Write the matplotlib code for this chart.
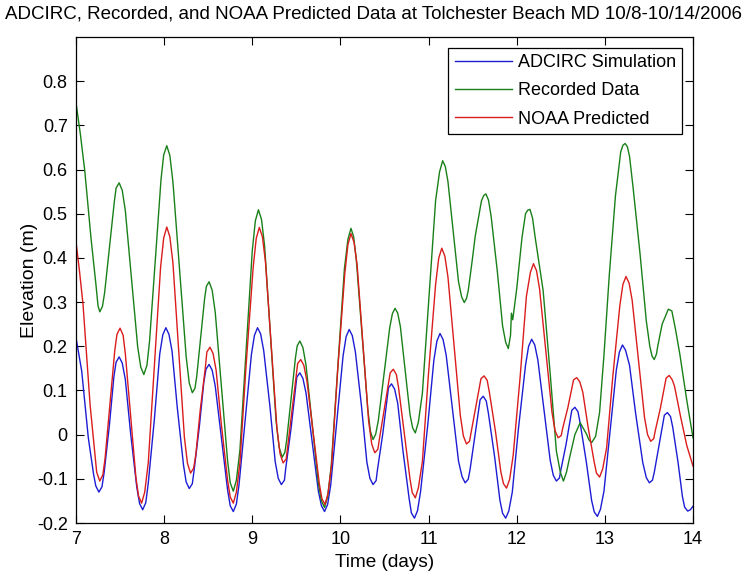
import numpy as np
import matplotlib
matplotlib.use('Agg')
import matplotlib.pyplot as plt
from matplotlib.ticker import FuncFormatter

plt.rcParams['font.family'] = ['Liberation Sans', 'DejaVu Sans']

# ADCIRC simulation (time in days, elevation in m)
adcirc_t = [7.00, 7.065, 7.14, 7.20, 7.26, 7.32, 7.38, 7.43, 7.49, 7.56, 7.62, 7.69, 7.757,
            7.82, 7.89, 7.95, 8.02, 8.09, 8.15, 8.22, 8.285, 8.34, 8.40, 8.45, 8.51, 8.58,
            8.65, 8.72, 8.785, 8.85, 8.92, 8.99, 9.06, 9.13, 9.20, 9.26, 9.33, 9.38, 9.44,
            9.49, 9.54, 9.61, 9.68, 9.75, 9.82, 9.89, 9.96, 10.03, 10.10, 10.17, 10.24, 10.30,
            10.37, 10.42, 10.48, 10.53, 10.58, 10.65, 10.71, 10.78, 10.84, 10.91, 10.99, 11.06,
            11.13, 11.20, 11.27, 11.34, 11.415, 11.47, 11.52, 11.57, 11.62, 11.68, 11.75, 11.81,
            11.875, 11.95, 12.02, 12.10, 12.17, 12.24, 12.31, 12.38, 12.45, 12.50, 12.56, 12.61,
            12.66, 12.72, 12.79, 12.85, 12.915, 12.99, 13.06, 13.13, 13.20, 13.28, 13.35, 13.43,
            13.505, 13.56, 13.61, 13.66, 13.71, 13.77, 13.83, 13.88, 13.94, 13.97, 14.00]
adcirc_v = [0.220, 0.144, -0.007, -0.090, -0.130, -0.085, 0.023, 0.131, 0.176, 0.125, 0.003,
            -0.119, -0.170, -0.110, 0.036, 0.182, 0.242, 0.189, 0.060, -0.069, -0.122, -0.081,
            0.019, 0.118, 0.159, 0.110, -0.008, -0.125, -0.174, -0.113, 0.034, 0.181, 0.242,
            0.190, 0.065, -0.061, -0.113, -0.076, 0.014, 0.103, 0.140, 0.094, -0.017, -0.128,
            -0.174, -0.114, 0.032, 0.178, 0.238, 0.187, 0.063, -0.062, -0.113, -0.080, 0.001,
            0.082, 0.115, 0.071, -0.037, -0.145, -0.189, -0.128, 0.020, 0.168, 0.229, 0.180,
            0.060, -0.060, -0.109, -0.080, -0.011, 0.058, 0.087, 0.047, -0.051, -0.149, -0.189,
            -0.130, 0.014, 0.157, 0.216, 0.169, 0.056, -0.058, -0.105, -0.081, -0.022, 0.038,
            0.062, 0.026, -0.062, -0.149, -0.185, -0.128, 0.009, 0.146, 0.203, 0.157, 0.047,
            -0.063, -0.109, -0.086, -0.030, 0.027, 0.050, 0.017, -0.062, -0.140, -0.173, -0.170,
            -0.162]
# extra readings close to each crest / trough
adcirc_crest_t = [7.225, 7.295, 7.455, 7.525, 7.722, 7.792, 7.985, 8.055, 8.25, 8.32, 8.475,
                  8.545, 8.75, 8.82, 9.025, 9.095, 9.295, 9.365, 9.505, 9.575, 9.785, 9.855,
                  10.065, 10.135, 10.335, 10.405, 10.545, 10.615, 10.805, 10.875, 11.095,
                  11.165, 11.38, 11.45, 11.585, 11.655, 11.84, 11.91, 12.135, 12.205, 12.415,
                  12.485, 12.625, 12.695, 12.88, 12.95, 13.165, 13.235, 13.47, 13.54, 13.675,
                  13.745, 13.905]
adcirc_crest_v = [-0.116, -0.118, 0.164, 0.162, -0.156, -0.154, 0.226, 0.227, -0.107, -0.111,
                  0.148, 0.146, -0.161, -0.157, 0.225, 0.228, -0.099, -0.103, 0.130, 0.127,
                  -0.161, -0.158, 0.222, 0.224, -0.099, -0.104, 0.106, 0.103, -0.177, -0.172,
                  0.212, 0.215, -0.095, -0.101, 0.079, 0.076, -0.178, -0.173, 0.200, 0.203,
                  -0.092, -0.098, 0.055, 0.052, -0.175, -0.169, 0.187, 0.191, -0.097, -0.103,
                  0.044, 0.041, -0.164]

# recorded data
recorded_t = [7.00, 7.05, 7.10, 7.17, 7.23, 7.27, 7.325, 7.38, 7.435, 7.49, 7.56, 7.63, 7.70,
              7.77, 7.835, 7.90, 7.965, 8.03, 8.10, 8.175, 8.25, 8.32, 8.37, 8.415, 8.46, 8.51,
              8.58, 8.65, 8.72, 8.785, 8.86, 8.93, 9.00, 9.07, 9.14, 9.205, 9.27, 9.34, 9.39,
              9.44, 9.49, 9.54, 9.61, 9.68, 9.75, 9.82, 9.895, 9.97, 10.045, 10.12, 10.18,
              10.245, 10.31, 10.37, 10.43, 10.495, 10.56, 10.62, 10.68, 10.735, 10.79, 10.85,
              10.93, 11.005, 11.08, 11.16, 11.22, 11.28, 11.34, 11.405, 11.45, 11.49, 11.53,
              11.565, 11.60, 11.65, 11.71, 11.78, 11.84, 11.905, 11.93, 11.94, 11.955, 12.00,
              12.06, 12.10, 12.15, 12.21, 12.30, 12.38, 12.45, 12.53, 12.60, 12.66, 12.72, 12.79,
              12.85, 12.94, 12.99, 13.05, 13.12, 13.18, 13.23, 13.28, 13.32, 13.40, 13.47, 13.51,
              13.56, 13.60, 13.65, 13.72, 13.76, 13.80, 13.85, 13.93, 14.00]
recorded_v = [0.752, 0.680, 0.597, 0.446, 0.333, 0.278, 0.321, 0.424, 0.527, 0.570, 0.507,
              0.353, 0.199, 0.136, 0.212, 0.395, 0.578, 0.654, 0.572, 0.375, 0.177, 0.095,
              0.132, 0.221, 0.309, 0.346, 0.277, 0.109, -0.059, -0.128, -0.035, 0.191, 0.416,
              0.509, 0.427, 0.229, 0.031, -0.051, -0.013, 0.081, 0.174, 0.212, 0.157, 0.024,
              -0.110, -0.165, -0.073, 0.151, 0.375, 0.467, 0.397, 0.228, 0.059, -0.011, 0.032,
              0.138, 0.243, 0.286, 0.245, 0.145, 0.045, 0.004, 0.094, 0.312, 0.530, 0.620,
              0.573, 0.460, 0.346, 0.299, 0.326, 0.386, 0.450, 0.490, 0.529, 0.545, 0.494,
              0.370, 0.246, 0.195, 0.225, 0.275, 0.260, 0.330, 0.446, 0.500, 0.510, 0.446,
              0.326, 0.138, -0.037, -0.105, -0.052, 0.000, 0.027, 0.002, -0.018, 0.050, 0.180,
              0.360, 0.540, 0.640, 0.659, 0.630, 0.560, 0.408, 0.258, 0.200, 0.170, 0.200,
              0.250, 0.284, 0.280, 0.240, 0.183, 0.077, -0.007]
recorded_crest_t = [7.25, 7.30, 7.455, 7.525, 7.735, 7.805, 7.995, 8.065, 8.285, 8.35, 8.48,
                    8.545, 8.75, 8.82, 9.035, 9.105, 9.305, 9.37, 9.51, 9.575, 9.785, 9.855,
                    10.085, 10.15, 10.34, 10.40, 10.59, 10.65, 10.82, 10.885, 11.125, 11.19,
                    11.375, 11.43, 11.625, 11.68, 11.875, 12.125, 12.18, 12.495, 12.565, 12.82,
                    12.895, 13.205, 13.255, 13.535, 13.585]
recorded_crest_v = [0.292, 0.290, 0.558, 0.553, 0.153, 0.157, 0.633, 0.632, 0.117, 0.105,
                    0.336, 0.327, -0.109, -0.103, 0.484, 0.487, -0.029, -0.040, 0.201, 0.197,
                    -0.150, -0.140, 0.442, 0.448, 0.008, 0.001, 0.274, 0.275, 0.015, 0.029,
                    0.595, 0.607, 0.312, 0.308, 0.541, 0.531, 0.209, 0.508, 0.490, -0.085,
                    -0.085, -0.012, -0.004, 0.655, 0.652, 0.178, 0.182]

# NOAA predicted
noaa_t = [7.00, 7.04, 7.08, 7.16, 7.22, 7.27, 7.33, 7.385, 7.44, 7.50, 7.56, 7.62, 7.68, 7.745,
          7.82, 7.89, 7.96, 8.03, 8.10, 8.165, 8.23, 8.30, 8.36, 8.41, 8.47, 8.52, 8.59, 8.65,
          8.72, 8.785, 8.86, 8.93, 9.01, 9.08, 9.15, 9.215, 9.28, 9.35, 9.40, 9.45, 9.50, 9.55,
          9.62, 9.69, 9.76, 9.825, 9.90, 9.97, 10.05, 10.12, 10.19, 10.255, 10.32, 10.39,
          10.44, 10.495, 10.55, 10.60, 10.66, 10.725, 10.79, 10.85, 10.93, 11.00, 11.08, 11.15,
          11.22, 11.29, 11.36, 11.43, 11.48, 11.53, 11.58, 11.63, 11.69, 11.76, 11.82, 11.885,
          11.96, 12.04, 12.11, 12.19, 12.26, 12.33, 12.40, 12.47, 12.52, 12.58, 12.63, 12.68,
          12.75, 12.81, 12.88, 12.94, 13.02, 13.09, 13.17, 13.24, 13.31, 13.38, 13.45, 13.52,
          13.57, 13.63, 13.68, 13.73, 13.79, 13.86, 13.93, 14.00]
noaa_v = [0.437, 0.370, 0.295, 0.068, -0.053, -0.105, -0.054, 0.068, 0.190, 0.241, 0.183,
          0.043, -0.097, -0.155, -0.064, 0.158, 0.379, 0.470, 0.389, 0.192, -0.006, -0.087,
          -0.045, 0.056, 0.156, 0.198, 0.146, 0.022, -0.103, -0.155, -0.064, 0.157, 0.378,
          0.469, 0.391, 0.203, 0.014, -0.064, -0.030, 0.053, 0.136, 0.170, 0.122, 0.006,
          -0.110, -0.158, -0.068, 0.149, 0.365, 0.455, 0.383, 0.207, 0.031, -0.041, -0.013,
          0.054, 0.120, 0.148, 0.106, 0.003, -0.101, -0.143, -0.061, 0.140, 0.340, 0.422,
          0.357, 0.201, 0.044, -0.021, 0.002, 0.056, 0.111, 0.133, 0.096, 0.006, -0.084,
          -0.121, -0.047, 0.133, 0.313, 0.387, 0.329, 0.190, 0.051, -0.007, 0.013, 0.061,
          0.109, 0.129, 0.096, 0.017, -0.063, -0.096, -0.030, 0.131, 0.292, 0.358, 0.304,
          0.172, 0.039, -0.015, 0.007, 0.060, 0.112, 0.134, 0.110, 0.040, -0.025, -0.071]
noaa_crest_t = [7.235, 7.305, 7.465, 7.535, 7.71, 7.78, 7.995, 8.065, 8.265, 8.335, 8.485,
                8.555, 8.75, 8.82, 9.045, 9.115, 9.315, 9.385, 9.515, 9.585, 9.79, 9.86,
                10.085, 10.155, 10.355, 10.425, 10.565, 10.635, 10.815, 10.885, 11.115, 11.185,
                11.395, 11.465, 11.595, 11.665, 11.85, 11.92, 12.155, 12.225, 12.435, 12.505,
                12.645, 12.715, 12.905, 12.975, 13.205, 13.275, 13.485, 13.555, 13.695, 13.765]
noaa_crest_v = [-0.085, -0.091, 0.227, 0.225, -0.139, -0.130, 0.445, 0.448, -0.065, -0.076,
                0.187, 0.184, -0.141, -0.130, 0.444, 0.448, -0.043, -0.055, 0.161, 0.157,
                -0.145, -0.133, 0.430, 0.435, -0.021, -0.033, 0.140, 0.136, -0.131, -0.120,
                0.399, 0.404, -0.003, -0.015, 0.127, 0.123, -0.111, -0.101, 0.367, 0.371,
                0.009, -0.002, 0.124, 0.120, -0.087, -0.078, 0.340, 0.343, 0.000, -0.009,
                0.128, 0.124]


def merged(t, v, ct, cv):
    tt = np.concatenate([t, ct])
    vv = np.concatenate([v, cv])
    order = np.argsort(tt)
    return tt[order], vv[order]


fig = plt.figure(figsize=(7.47, 5.75), dpi=100)
ax = fig.add_axes([0.1017, 0.0904, 0.826, 0.8452])

ax.plot(*merged(adcirc_t, adcirc_v, adcirc_crest_t, adcirc_crest_v),
        color='#1c1cd4', lw=1.0, label='ADCIRC Simulation')
ax.plot(*merged(recorded_t, recorded_v, recorded_crest_t, recorded_crest_v),
        color='#198019', lw=1.0, label='Recorded Data')
ax.plot(*merged(noaa_t, noaa_v, noaa_crest_t, noaa_crest_v),
        color='#da1c1c', lw=1.0, label='NOAA Predicted')

ax.set_xlim(7, 14)
ax.set_ylim(-0.2, 0.9)
ax.set_xticks(np.arange(7, 15))
ax.set_yticks(np.round(np.arange(-0.2, 0.85, 0.1), 1))
ax.yaxis.set_major_formatter(FuncFormatter(lambda v, p: '%g' % round(v, 1)))
ax.tick_params(direction='in', length=6, width=0.8, top=True, right=True,
               labelsize=13, pad=6)
for s in ax.spines.values():
    s.set_linewidth(0.9)

ax.set_xlabel('Time (days)', fontsize=13.7, labelpad=4)
ax.set_ylabel('Elevation (m)', fontsize=14, labelpad=-1)
fig.text(0.5, 0.975, 'ADCIRC, Recorded, and NOAA Predicted Data at Tolchester Beach MD 10/8-10/14/2006',
         ha='center', va='center', fontsize=13.5)

leg = ax.legend(loc='upper right', fontsize=13, fancybox=False, framealpha=1,
                edgecolor='black', handlelength=3.2, handletextpad=0.3,
                labelspacing=0.62, borderpad=0.35, borderaxespad=0.6)
leg.get_frame().set_linewidth(0.9)

fig.savefig('out.png', dpi=100)
